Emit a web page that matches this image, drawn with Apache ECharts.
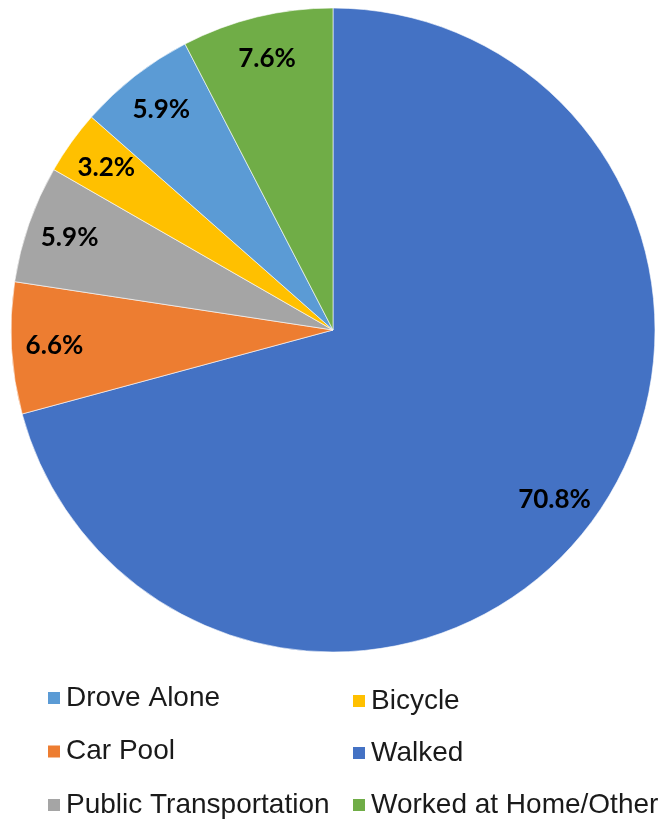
<!DOCTYPE html>
<html>
<head>
<meta charset="utf-8">
<script src="https://cdn.jsdelivr.net/npm/echarts@6/dist/echarts.min.js"></script>
<style>
html, body { margin: 0; padding: 0; background: #fff; }
#main { width: 661px; height: 822px; }
</style>
</head>
<body>
<div id="main"></div>
<script>
// commute mode shares, clockwise from 12 o'clock
var modes = ['Walked', 'Car Pool', 'Public Transportation', 'Bicycle', 'Drove Alone', 'Worked at Home/Other']
var shares = [70.8, 6.6, 5.9, 3.2, 5.9, 7.6]
var colors = ['#4472C4', '#ED7D31', '#A5A5A5', '#FFC000', '#5B9BD5', '#70AD47']

var legendLeft = ['Drove Alone', 'Car Pool', 'Public Transportation']
var legendRight = ['Bicycle', 'Walked', 'Worked at Home/Other']

var pieData = []
for (var i = 0; i < modes.length; i++) {
    pieData.push({ name: modes[i], value: shares[i], itemStyle: { color: colors[i] } })
}
var labelData = []
for (var j = 0; j < modes.length; j++) {
    labelData.push({ name: modes[j], value: shares[j] })
}

var legendText = {
    fontFamily: 'Liberation Sans, Arial, sans-serif',
    fontSize: 28,
    color: '#1a1a1a',
    lineHeight: 28
}

var option = {
    backgroundColor: '#fff',
    animation: false,
    legend: [{
        orient: 'vertical',
        left: 46,
        top: 684,
        height: 140,
        padding: 0,
        icon: 'rect',
        itemWidth: 14,
        itemHeight: 14,
        itemGap: 25.5,
        textStyle: legendText,
        data: legendLeft
    }, {
        orient: 'vertical',
        left: 351,
        top: 687,
        height: 140,
        padding: 0,
        icon: 'rect',
        itemWidth: 14,
        itemHeight: 14,
        itemGap: 24,
        textStyle: legendText,
        data: legendRight
    }],
    series: [{
        type: 'pie',
        center: [333, 330],
        radius: [0, 322],
        startAngle: 90,
        clockwise: true,
        silent: true,
        label: { show: false },
        labelLine: { show: false },
        itemStyle: { borderColor: '#ffffff', borderWidth: 0.6 },
        data: pieData
    }, {
        // transparent ring, only carries the labels further out
        type: 'pie',
        center: [333, 330],
        radius: [232, 320],
        startAngle: 90,
        clockwise: true,
        silent: true,
        itemStyle: { color: 'rgba(0,0,0,0)' },
        label: {
            show: true,
            position: 'inside',
            formatter: function (p) { return p.value.toFixed(1) + '%' },
            fontFamily: 'Lato, Liberation Sans, sans-serif',
            fontWeight: 'bold',
            fontSize: 26,
            color: '#000'
        },
        labelLine: { show: false },
        data: labelData
    }]
}

var myChart = echarts.init(document.getElementById('main'))
myChart.setOption(option)
</script>
</body>
</html>
